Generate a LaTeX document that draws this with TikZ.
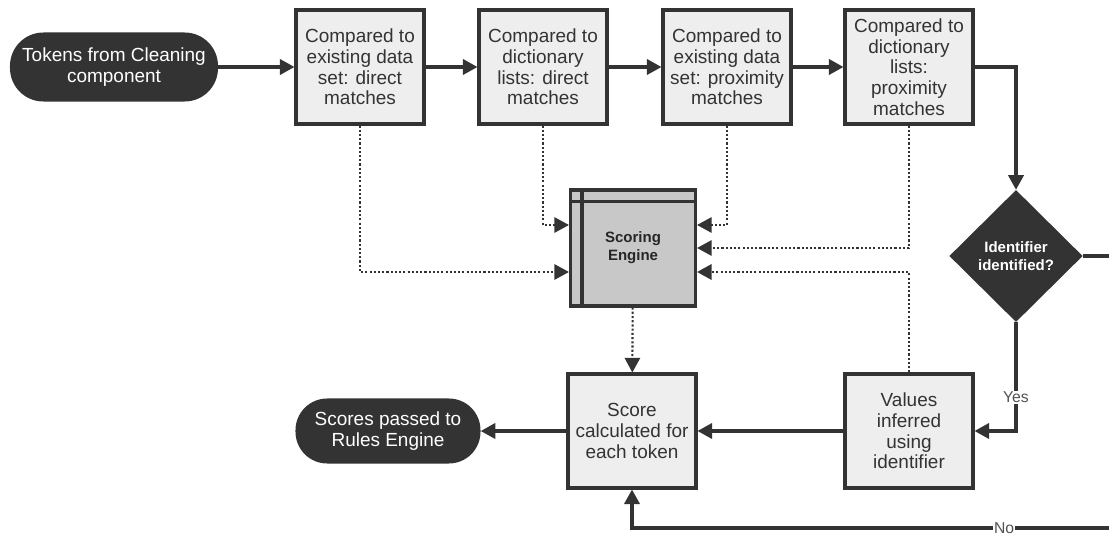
\documentclass[tikz,border=0pt]{standalone}
\usepackage{fontspec}
\setmainfont{Liberation Sans}
\usepackage{tikz}
\usetikzlibrary{arrows.meta,positioning,calc,shapes.geometric}
\definecolor{ink}{HTML}{333333}
\definecolor{boxgray}{HTML}{EEEEEE}
\definecolor{enggray}{HTML}{C8C8C8}

\begin{document}
\begin{tikzpicture}[x=0.03cm,y=-0.03cm,
    font=\fontsize{16.2}{17.6}\selectfont,text=ink,
    proc/.style={draw=ink,fill=boxgray,line width=2.6pt,minimum width=3.84cm,minimum height=3.42cm,inner sep=0pt,align=center},
    term/.style={fill=ink,text=white,inner sep=0pt,align=center},
    decide/.style={diamond,fill=ink,text=white,font=\fontsize{12.8}{15.5}\selectfont\bfseries,minimum width=4cm,minimum height=3.96cm,inner sep=0pt,align=center},
    engine/.style={draw=ink,fill=enggray,line width=2.6pt,minimum width=3.75cm,minimum height=3.48cm,text=black!85,font=\fontsize{12.8}{15.5}\selectfont\bfseries,align=center},
    arr/.style={-{Triangle[length=0.44cm,width=0.46cm]},line width=2.6pt,draw=ink},
    link/.style={line width=2.6pt,draw=ink},
    dots/.style={-{Triangle[length=0.44cm,width=0.46cm]},line width=1.8pt,draw=ink,dash pattern=on 1.8pt off 1.8pt},
    lbl/.style={fill=white,text=ink!85,inner sep=1pt,font=\fontsize{13.4}{15}\selectfont}]
\useasboundingbox (0,0) rectangle (1109,538);
\node[term,minimum width=6.24cm,minimum height=2.07cm,rounded corners=1cm] (tok) at (114,67) {Tokens from Cleaning\\component};
\node[proc] (c1) at (360,67) {Compared to\\existing data\\set: direct\\matches};
\node[proc] (c2) at (543,67) {Compared to\\dictionary\\lists: direct\\matches};
\node[proc] (c3) at (727,67) {Compared to\\existing data\\set: proximity\\matches};
\node[proc] (c4) at (909,67) {Compared to\\dictionary\\lists:\\proximity\\matches};
\node[decide] (dec) at (1016,256) {Identifier\\identified?};
\node[engine] (eng) at (633,248) {Scoring\\Engine};
\node[proc] (val) at (909,431) {Values\\inferred\\using\\identifier};
\node[proc] (score) at (632,431) {Score\\calculated for\\each token};
\node[term,minimum width=5.55cm,minimum height=1.95cm,rounded corners=0.95cm] (out) at (388,431) {Scores passed to\\Rules Engine};
\coordinate (decout) at (1109,256);
\coordinate (noin) at (1109,528);
\draw[line width=2.6pt,ink] ($(eng.north west)+(13,0)$) -- ($(eng.south west)+(13,0)$);
\draw[line width=2.6pt,ink] ($(eng.north west)+(0,13)$) -- ($(eng.north east)+(0,13)$);
\draw[arr] (tok)--(c1);
\draw[arr] (c1)--(c2);
\draw[arr] (c2)--(c3);
\draw[arr] (c3)--(c4);
\draw[arr] (c4.east) -| (dec.north);
\draw[link] (dec.east)--(decout);
\draw[arr] (dec.south) |- node[lbl,pos=0.345]{Yes} (val.east);
\draw[arr] (val)--(score);
\draw[arr] (score)--(out);
\draw[arr] (noin) -| node[lbl,pos=0.11]{No} (score.south);
\draw[dots] (c1.south) |- ($(eng.west)+(0,24)$);
\draw[dots] (c2.south) |- ($(eng.west)+(0,-23)$);
\draw[dots] (c3.south) |- ($(eng.east)+(0,-23)$);
\draw[dots] (c4.south) |- (eng.east);
\draw[dots,line width=2.2pt] (val.north) |- ($(eng.east)+(0,24)$);
\draw[dots] (eng)--(score);
\end{tikzpicture}
\end{document}
